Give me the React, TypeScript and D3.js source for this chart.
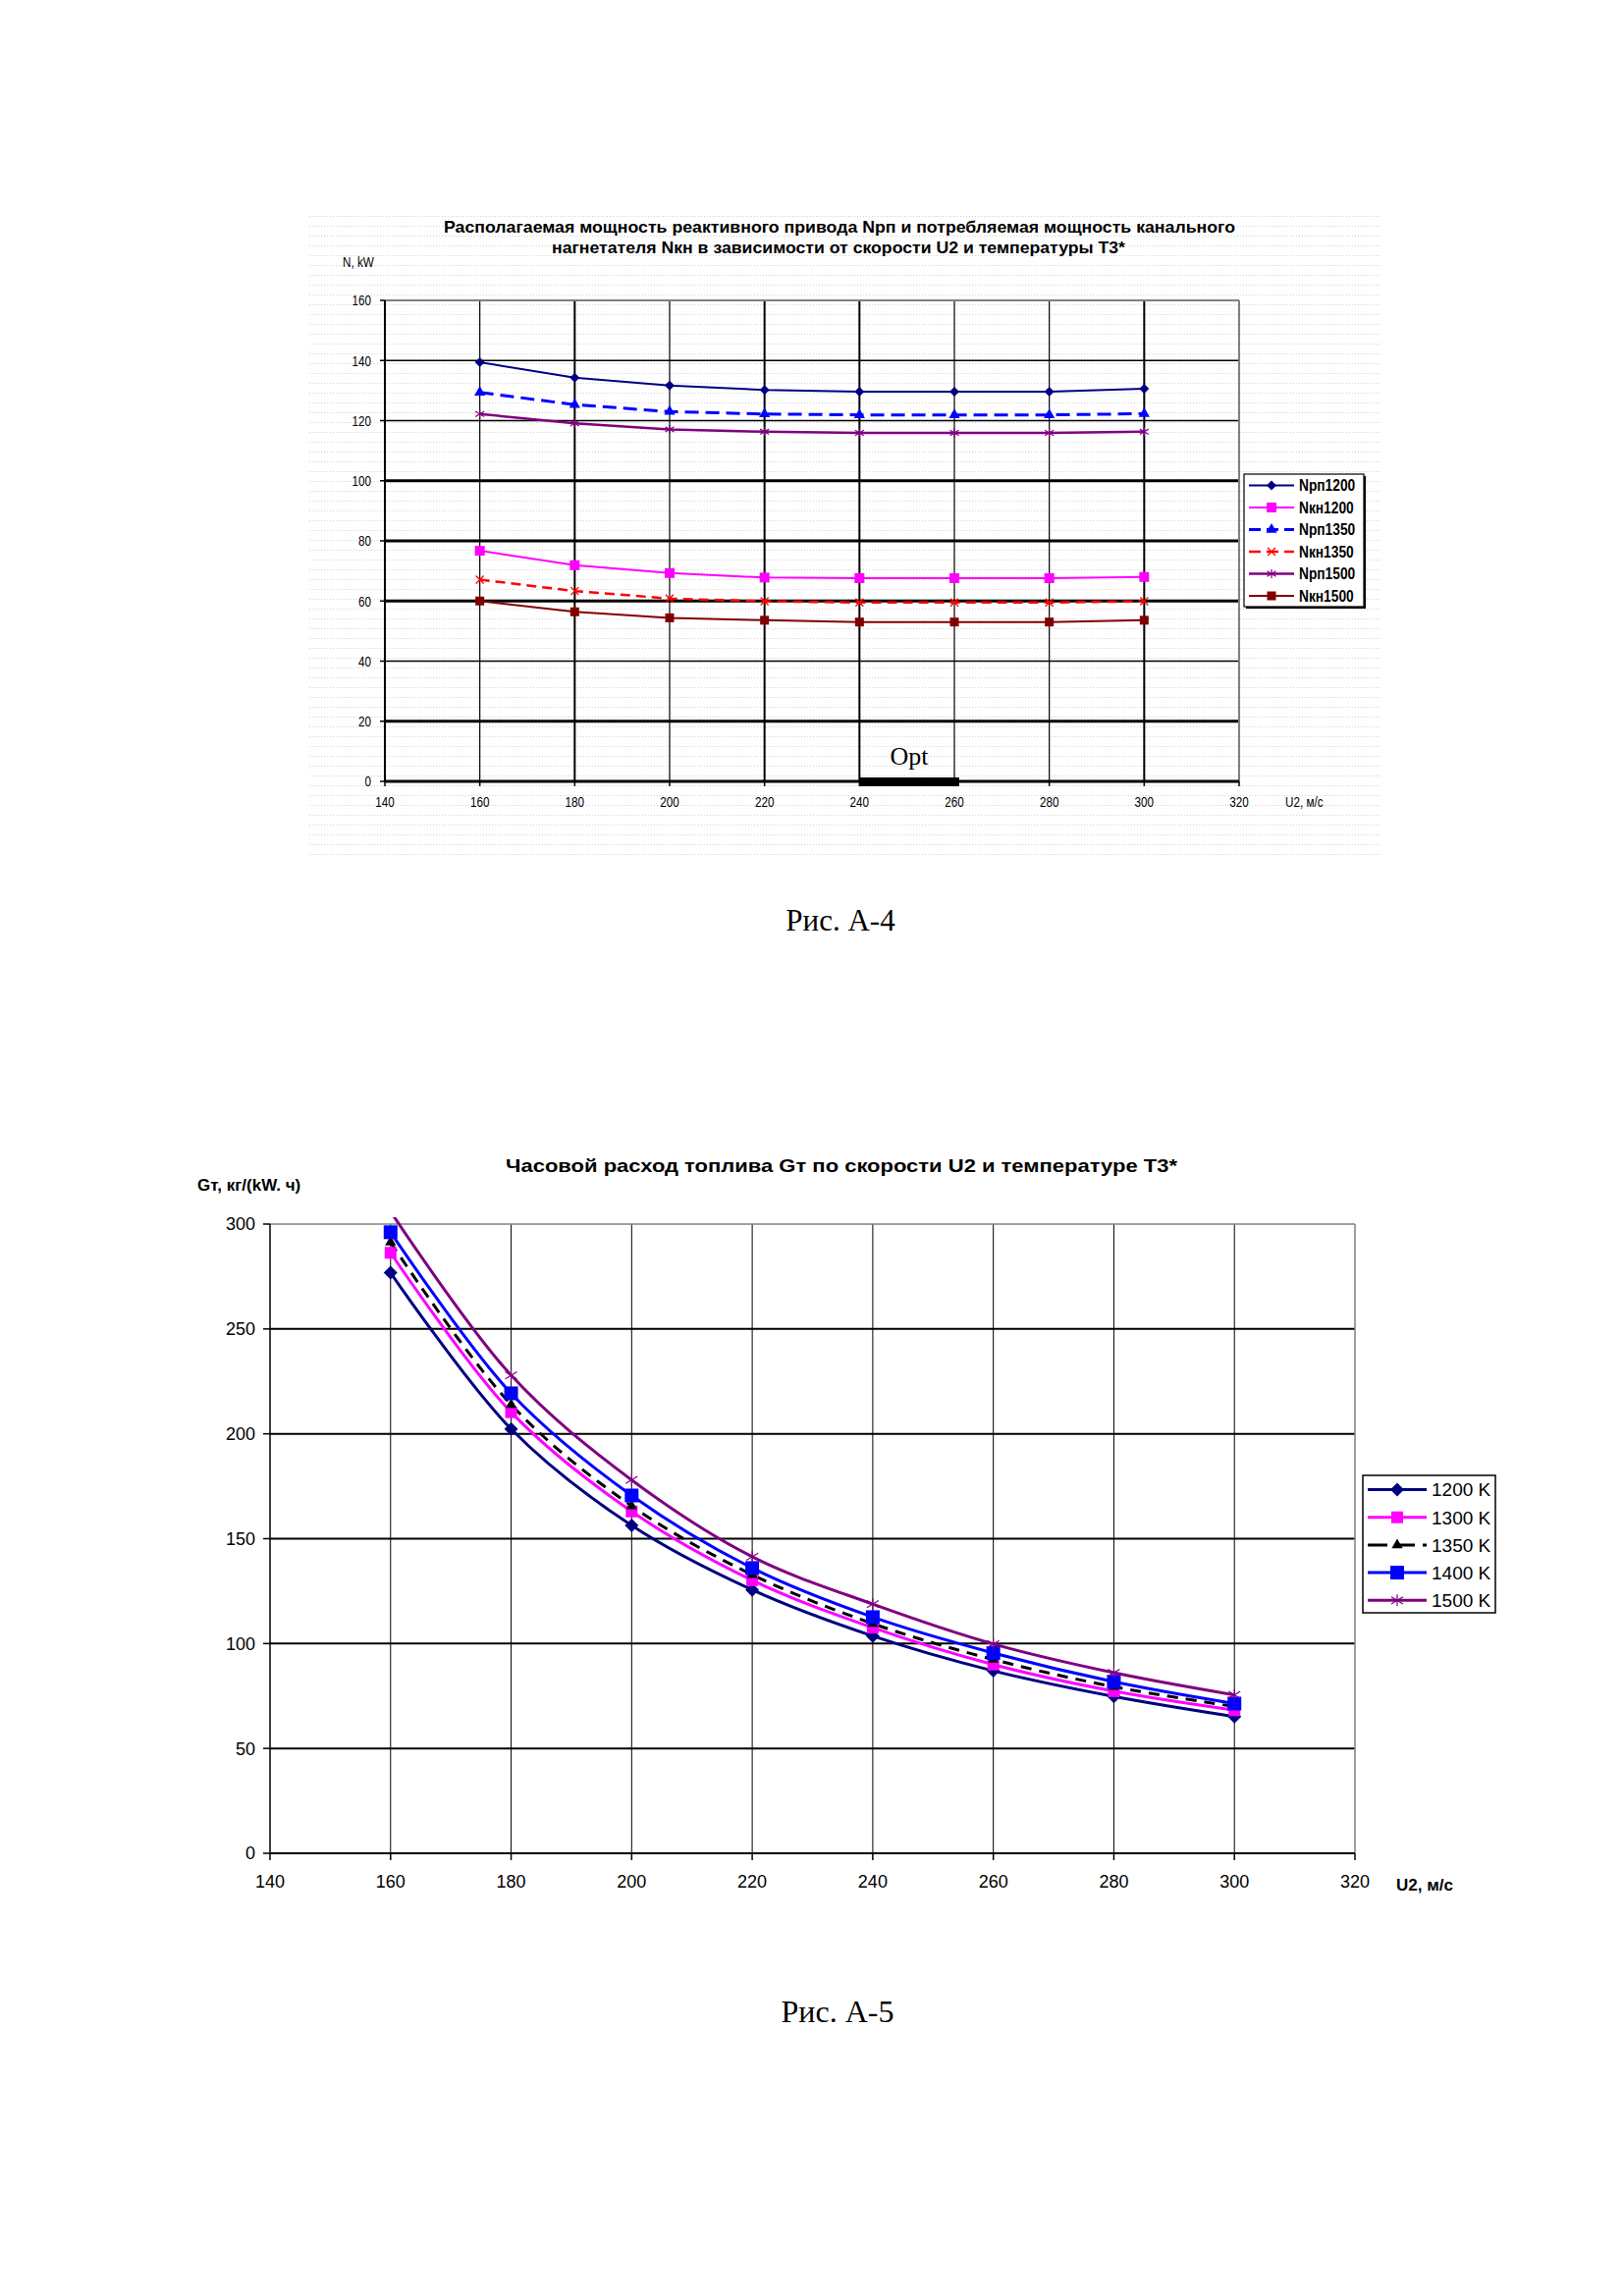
import * as d3 from "d3";

// ---- data: figure A-4 (power vs. speed) ----
const speeds = [160, 180, 200, 220, 240, 260, 280, 300];
const nrp1200 = [139.4, 134.3, 131.7, 130.2, 129.6, 129.6, 129.6, 130.6];
const nkn1200 = [76.7, 71.9, 69.3, 67.8, 67.6, 67.6, 67.6, 68.0];
const nrp1350 = [129.4, 125.3, 123.0, 122.2, 121.9, 121.9, 121.9, 122.3];
const nkn1350 = [67.1, 63.3, 60.8, 59.9, 59.5, 59.5, 59.5, 59.9];
const nrp1500 = [122.2, 119.1, 117.1, 116.3, 115.9, 115.9, 115.9, 116.3];
const nkn1500 = [60.0, 56.4, 54.4, 53.6, 53.0, 53.0, 53.0, 53.6];
const optRange = [240, 261];

// ---- data: figure A-5 (fuel consumption vs. speed) ----
const gt1200 = [276.8, 202.3, 156.3, 125.6, 103.6, 87.0, 74.8, 65.2];
const gt1300 = [286.3, 210.3, 163.0, 130.2, 107.6, 90.0, 77.3, 68.2];
const gt1350 = [291.3, 213.9, 165.6, 132.8, 109.5, 92.4, 79.4, 70.0];
const gt1400 = [296.1, 219.3, 170.6, 136.0, 112.6, 95.5, 81.8, 71.4];
const gt1500 = [306.0, 227.9, 178.0, 141.4, 118.8, 99.8, 86.1, 75.5];

const title1a = "Располагаемая мощность реактивного привода Nрп и потребляемая мощность канального";
const title1b = "нагнетателя Nкн в зависимости от скорости U2 и температуры T3*";
const title2 = "Часовой расход топлива Gт по скорости U2 и температуре T3*";

const ARIAL = "'Liberation Sans', Arial, sans-serif";
const SERIF = "'Liberation Serif', 'Times New Roman', serif";

// squeezed Arial, standing in for the condensed face of the scan
function Narrow({ x, y, anchor = "start", size = 14, bold = false, squeeze = 0.78, children }: {
  x: number; y: number; anchor?: string; size?: number; bold?: boolean; squeeze?: number; children: any;
}) {
  return (
    <text transform={`translate(${x},${y}) scale(${squeeze},1)`} textAnchor={anchor} dy="0.36em"
      fontFamily={ARIAL} fontWeight={bold ? "bold" : "normal"} fontSize={size}>
      {children}
    </text>
  );
}

type MarkerType = "diamond" | "square" | "triangle" | "x" | "star";

function Marker({ type, x, y, size, color }: { type: MarkerType; x: number; y: number; size: number; color: string }) {
  const s = size / 2;
  if (type === "square") {
    return <rect x={x - s} y={y - s} width={size} height={size} fill={color} />;
  }
  if (type === "diamond") {
    return <path d={`M${x},${y - s}L${x + s},${y}L${x},${y + s}L${x - s},${y}Z`} fill={color} />;
  }
  if (type === "triangle") {
    const tri = d3.symbol(d3.symbolTriangle, size * size * 0.45)();
    return <path d={tri || ""} transform={`translate(${x},${y})`} fill={color} />;
  }
  if (type === "x") {
    return (
      <path
        d={`M${x - s},${y - s}L${x + s},${y + s}M${x - s},${y + s}L${x + s},${y - s}`}
        stroke={color}
        strokeWidth={1.3}
        fill="none"
      />
    );
  }
  // asterisk
  return (
    <path
      d={`M${x},${y - s}L${x},${y + s}M${x - s},${y - s * 0.6}L${x + s},${y + s * 0.6}M${x - s},${y + s * 0.6}L${x + s},${y - s * 0.6}`}
      stroke={color}
      strokeWidth={1.2}
      fill="none"
    />
  );
}

interface SeriesDef {
  name: string;
  values: number[];
  color: string;
  width: number;
  dash?: string;
  marker: MarkerType;
  msize: number;
}

function PowerChart() {
  const x = d3.scaleLinear().domain([140, 320]).range([392, 1262]);
  const y = d3.scaleLinear().domain([0, 160]).range([796, 306]);

  const series: SeriesDef[] = [
    { name: "Nрп1200", values: nrp1200, color: "#000080", width: 2, marker: "diamond", msize: 10 },
    { name: "Nкн1200", values: nkn1200, color: "#ff00ff", width: 2, marker: "square", msize: 10 },
    { name: "Nрп1350", values: nrp1350, color: "#0000ff", width: 3, dash: "14,7", marker: "triangle", msize: 11 },
    { name: "Nкн1350", values: nkn1350, color: "#ff0000", width: 2.5, dash: "10,6", marker: "x", msize: 8 },
    { name: "Nрп1500", values: nrp1500, color: "#800080", width: 2.5, marker: "star", msize: 9 },
    { name: "Nкн1500", values: nkn1500, color: "#800000", width: 2, marker: "square", msize: 9 },
  ];

  const line = d3
    .line<number>()
    .x((_, i) => x(speeds[i]))
    .y((v) => y(v));

  const heavyY = new Set([0, 20, 60, 80, 100]);
  const heavyX = new Set([180, 220, 240, 300]);
  const yTicks = y.ticks(8);
  const xTicks = x.ticks(9);

  return (
    <g>
      <rect x={313} y={215} width={1093} height={665} fill="url(#dots)" />
      <text x={855} y={237} textAnchor="middle" fontFamily={ARIAL} fontWeight="bold" fontSize={17}
        textLength={806} lengthAdjust="spacingAndGlyphs">{title1a}</text>
      <text x={854} y={258} textAnchor="middle" fontFamily={ARIAL} fontWeight="bold" fontSize={17}
        textLength={584} lengthAdjust="spacingAndGlyphs">{title1b}</text>
      <Narrow x={349} y={267} size={15}>N, kW</Narrow>

      {/* grid */}
      {yTicks.filter((t) => t > 0 && t < 160).map((t) => (
        <line key={"gy" + t} x1={x(140)} x2={x(320)} y1={y(t)} y2={y(t)} stroke="#000"
          strokeWidth={heavyY.has(t) ? 3 : 1.5} />
      ))}
      {xTicks.filter((t) => t > 140 && t < 320).map((t) => (
        <line key={"gx" + t} x1={x(t)} x2={x(t)} y1={y(0)} y2={y(160)} stroke="#000"
          strokeWidth={heavyX.has(t) ? 2 : 1.2} />
      ))}
      <line x1={x(140)} x2={x(320)} y1={y(160)} y2={y(160)} stroke="#808080" strokeWidth={2} />
      <line x1={x(320)} x2={x(320)} y1={y(0)} y2={y(160)} stroke="#808080" strokeWidth={2} />
      <line x1={x(140)} x2={x(320)} y1={y(0)} y2={y(0)} stroke="#000" strokeWidth={3} />
      <line x1={x(140)} x2={x(140)} y1={y(0)} y2={y(160)} stroke="#000" strokeWidth={2} />

      {/* ticks & labels */}
      {yTicks.map((t) => (
        <g key={"ty" + t}>
          <line x1={x(140) - 5} x2={x(140)} y1={y(t)} y2={y(t)} stroke="#000" strokeWidth={1.5} />
          <Narrow x={378} y={y(t)} anchor="end" size={15}>{t}</Narrow>
        </g>
      ))}
      {xTicks.map((t) => (
        <g key={"tx" + t}>
          <line x1={x(t)} x2={x(t)} y1={y(0)} y2={y(0) + 5} stroke="#000" strokeWidth={1.5} />
          <Narrow x={x(t)} y={817} anchor="middle" size={15}>{t}</Narrow>
        </g>
      ))}
      <Narrow x={1309} y={817} size={15}>U2, м/с</Narrow>

      {/* Opt band */}
      <rect x={x(optRange[0])} y={y(0) - 4} width={x(optRange[1]) - x(optRange[0])} height={9} fill="#000" />
      <text x={926} y={779} textAnchor="middle" fontFamily={SERIF} fontSize={26}>Opt</text>

      {/* series */}
      {series.map((s) => (
        <g key={s.name}>
          <path d={line(s.values) || ""} fill="none" stroke={s.color} strokeWidth={s.width}
            strokeDasharray={s.dash} />
          {s.values.map((v, i) => (
            <Marker key={i} type={s.marker} x={x(speeds[i])} y={y(v)} size={s.msize} color={s.color} />
          ))}
        </g>
      ))}

      {/* legend */}
      <rect x={1269} y={485} width={122} height={135} fill="#000" />
      <rect x={1267} y={483} width={122} height={135} fill="#fff" stroke="#000" strokeWidth={1.2} />
      {series.map((s, i) => {
        const ly = 494.5 + i * 22.5;
        return (
          <g key={"lg" + s.name}>
            <line x1={1272} x2={1318} y1={ly} y2={ly} stroke={s.color} strokeWidth={s.width}
              strokeDasharray={s.dash ? "12,6" : undefined} />
            <Marker type={s.marker} x={1295} y={ly} size={s.msize} color={s.color} />
            <Narrow x={1323} y={ly} size={16} bold squeeze={0.86}>{s.name}</Narrow>
          </g>
        );
      })}

      <text x={856} y={948} textAnchor="middle" fontFamily={SERIF} fontSize={31}>Рис.  А-4</text>
    </g>
  );
}

function FuelChart() {
  const x = d3.scaleLinear().domain([140, 320]).range([275, 1380]);
  const y = d3.scaleLinear().domain([0, 300]).range([1888, 1247]);

  const series: SeriesDef[] = [
    { name: "1200 K", values: gt1200, color: "#000080", width: 3, marker: "diamond", msize: 14 },
    { name: "1300 K", values: gt1300, color: "#ff00ff", width: 3, marker: "square", msize: 12 },
    { name: "1350 K", values: gt1350, color: "#000000", width: 3, dash: "11,8", marker: "triangle", msize: 11 },
    { name: "1400 K", values: gt1400, color: "#0000ff", width: 3, marker: "square", msize: 14 },
    { name: "1500 K", values: gt1500, color: "#800080", width: 3, marker: "star", msize: 12 },
  ];

  const line = d3
    .line<number>()
    .x((_, i) => x(speeds[i]))
    .y((v) => y(v))
    .curve(d3.curveCatmullRom.alpha(0.5));

  const yTicks = y.ticks(6);
  const xTicks = x.ticks(9);

  return (
    <g>
      <defs>
        <clipPath id="clip2">
          <rect x={x(140)} y={y(300) - 7} width={x(320) - x(140)} height={y(0) - y(300) + 7} />
        </clipPath>
      </defs>
      <text x={857} y={1194} textAnchor="middle" fontFamily={ARIAL} fontWeight="bold" fontSize={19}
        textLength={684} lengthAdjust="spacingAndGlyphs">{title2}</text>
      <text x={201} y={1213} fontFamily={ARIAL} fontWeight="bold" fontSize={17}>Gт, кг/(kW. ч)</text>

      {yTicks.filter((t) => t > 0 && t < 300).map((t) => (
        <line key={"gy" + t} x1={x(140)} x2={x(320)} y1={y(t)} y2={y(t)} stroke="#000" strokeWidth={2} />
      ))}
      {xTicks.filter((t) => t > 140 && t < 320).map((t) => (
        <line key={"gx" + t} x1={x(t)} x2={x(t)} y1={y(0)} y2={y(300)} stroke="#000" strokeWidth={1} />
      ))}
      <line x1={x(140)} x2={x(320)} y1={y(300)} y2={y(300)} stroke="#808080" strokeWidth={1.5} />
      <line x1={x(320)} x2={x(320)} y1={y(0)} y2={y(300)} stroke="#808080" strokeWidth={1.5} />
      <line x1={x(140)} x2={x(320)} y1={y(0)} y2={y(0)} stroke="#000" strokeWidth={2} />
      <line x1={x(140)} x2={x(140)} y1={y(0)} y2={y(300)} stroke="#000" strokeWidth={1.5} />

      {yTicks.map((t) => (
        <g key={"ty" + t}>
          <line x1={x(140) - 7} x2={x(140)} y1={y(t)} y2={y(t)} stroke="#000" strokeWidth={1.5} />
          <text x={260} y={y(t)} dy="0.36em" textAnchor="end" fontFamily={ARIAL} fontSize={18}>{t}</text>
        </g>
      ))}
      {xTicks.map((t) => (
        <g key={"tx" + t}>
          <line x1={x(t)} x2={x(t)} y1={y(0)} y2={y(0) + 7} stroke="#000" strokeWidth={1.5} />
          <text x={x(t)} y={1923} textAnchor="middle" fontFamily={ARIAL} fontSize={18}>{t}</text>
        </g>
      ))}
      <text x={1422} y={1926} fontFamily={ARIAL} fontWeight="bold" fontSize={17}>U2, м/с</text>

      <g clipPath="url(#clip2)">
        {series.map((s) => (
          <path key={s.name} d={line(s.values) || ""} fill="none" stroke={s.color} strokeWidth={s.width}
            strokeDasharray={s.dash} />
        ))}
      </g>
      {series.map((s) => (
        <g key={"m" + s.name}>
          {s.values.map((v, i) =>
            v <= 300 ? (
              <Marker key={i} type={s.marker} x={x(speeds[i])} y={y(v)} size={s.msize} color={s.color} />
            ) : null
          )}
        </g>
      ))}

      {/* legend */}
      <rect x={1388} y={1503} width={135} height={140} fill="#fff" stroke="#000" strokeWidth={1.5} />
      {series.map((s, i) => {
        const ly = 1517.5 + i * 28.2;
        return (
          <g key={"lg" + s.name}>
            <line x1={1393} x2={1453} y1={ly} y2={ly} stroke={s.color} strokeWidth={s.width}
              strokeDasharray={s.dash ? "20,8" : undefined} />
            <Marker type={s.marker} x={1423} y={ly} size={s.msize} color={s.color} />
            <text x={1458} y={ly} dy="0.36em" fontFamily={ARIAL} fontSize={19}>{s.name}</text>
          </g>
        );
      })}

      <text x={853} y={2060} textAnchor="middle" fontFamily={SERIF} fontSize={32}>Рис.  А-5</text>
    </g>
  );
}

export default function App() {
  return (
    <svg width={1654} height={2339} style={{ position: "absolute", left: 0, top: 0, background: "#fff" }}>
      <defs>
        <pattern id="dots" width={3} height={10} patternUnits="userSpaceOnUse">
          <rect width={1} height={1} fill="#d2d2d2" />
        </pattern>
      </defs>
      <rect width={1654} height={2339} fill="#fff" />
      <PowerChart />
      <FuelChart />
    </svg>
  );
}
